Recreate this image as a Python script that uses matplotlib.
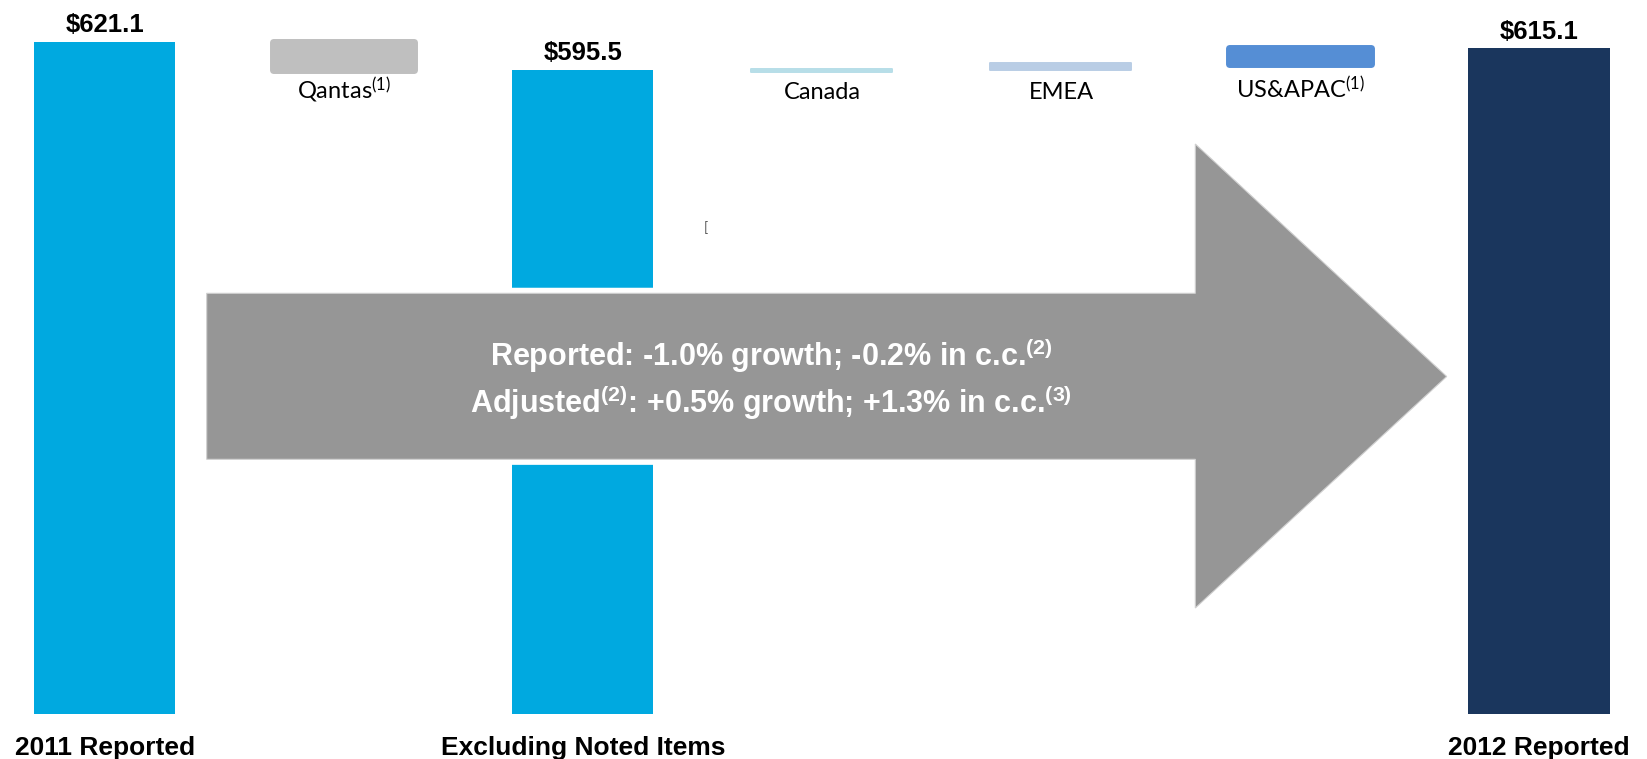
import matplotlib
matplotlib.use("Agg")
import matplotlib.pyplot as plt
from matplotlib.patches import Polygon

# ---- data -------------------------------------------------------------
categories = ["2011 Reported", "Qantas", "Excluding Noted Items",
              "Canada", "EMEA", "US&APAC", "2012 Reported"]

total_names = ["2011 Reported", "Excluding Noted Items", "2012 Reported"]
total_values = [621.1, 595.5, 615.1]
total_labels = ["$621.1", "$595.5", "$615.1"]

step_names = ["Qantas", "Canada", "EMEA", "US&APAC"]
step_notes = ["(1)", "", "", "(1)"]
step_low = [595.5, 593.6, 595.2, 600.6]
step_high = [621.1, 596.4, 601.4, 615.1]

summary_lines = [
    r"Reported: -1.0% growth; -0.2% in c.c.$\mathregular{^{(2)}}$",
    r"Adjusted$\mathregular{^{(2)}}$: +0.5% growth; +1.3% in c.c.$\mathregular{^{(3)}}$",
]

# ---- styles -----------------------------------------------------------
total_colors = ["#00A9E0", "#00A9E0", "#1A365D"]
step_colors = ["#BFBFBF", "#B7DEE8", "#B9CDE5", "#558ED5"]
step_edge = [5.0, 1.4, 1.4, 5.0]
BAR_W = 0.59
BOLD = ["Liberation Sans", "DejaVu Sans"]
REG = ["Lato", "DejaVu Sans"]

W, H = 1647, 759
fig = plt.figure(figsize=(W / 100, H / 100), dpi=100)
ax = fig.add_axes([0, 0, 1, 1])
ax.set_xlim(-0.4393, 6.4519)
ax.set_ylim(-41.6, 659.9)
ax.axis("off")

# totals
for name, val, lab, col in zip(total_names, total_values, total_labels, total_colors):
    x = categories.index(name)
    ax.bar(x, val, width=BAR_W, color=col, zorder=2)
    ax.annotate(lab, xy=(x, val), xytext=(0, 7), textcoords="offset points",
                ha="center", va="baseline", fontsize=18.5, fontweight="bold",
                family=BOLD, color="black")
    ax.text(x, 0.0055, name, transform=ax.get_xaxis_transform(),
            ha="center", va="baseline", fontsize=19, fontweight="bold",
            family=BOLD, color="black")

# floating steps
for name, note, lo, hi, col, lw in zip(step_names, step_notes, step_low,
                                       step_high, step_colors, step_edge):
    x = categories.index(name)
    ax.bar(x, hi - lo, bottom=lo, width=BAR_W, color=col, edgecolor=col,
           linewidth=lw, joinstyle="round", zorder=2)
    label = name + (r"$\mathregular{^{%s}}$" % note if note else "")
    ax.text(x, 1 - 99 / H, label, transform=ax.get_xaxis_transform(),
            ha="center", va="baseline", fontsize=17, family=REG, color="black")

# big summary arrow (figure pixel outline)
arrow_px = [(206.7, 293.3), (1195.3, 293.3), (1195.3, 144.0),
            (1446.7, 376.5), (1195.3, 608.0), (1195.3, 459.3),
            (206.7, 459.3)]
arrow_xy = [(px / W, 1 - py / H) for px, py in arrow_px]
fig.add_artist(Polygon(arrow_xy, closed=True, transform=fig.transFigure,
                       facecolor="white", edgecolor="white", linewidth=8,
                       joinstyle="miter", zorder=5))
fig.add_artist(Polygon(arrow_xy, closed=True, transform=fig.transFigure,
                       facecolor="#969696", edgecolor="#D0D0D0", linewidth=0.8,
                       joinstyle="miter", zorder=6))

for line, yb in zip(summary_lines, [1 - 366 / H, 1 - 413 / H]):
    fig.text(771 / W, yb, line, ha="center", va="baseline", fontsize=22,
             fontweight="bold", family=BOLD, color="white", zorder=7)

# stray bracket mark
fig.text(705.5 / W, 1 - 228 / H, "[", ha="center", va="center", fontsize=10,
         family=REG, color="#555555")

fig.savefig("out.png", dpi=100)
